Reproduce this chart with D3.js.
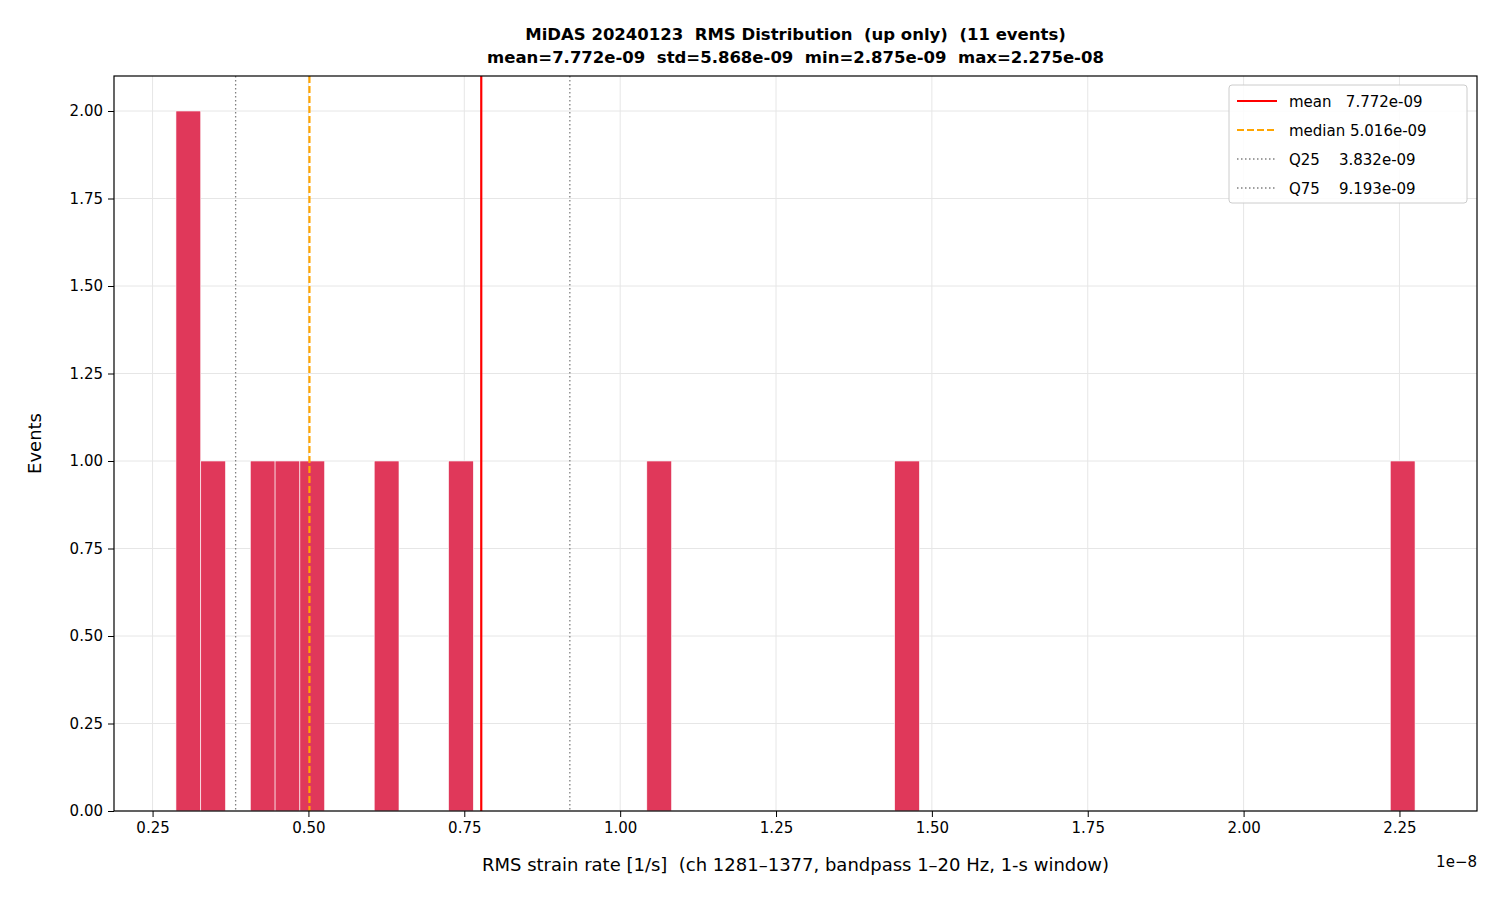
<!DOCTYPE html>
<html>
<head>
<script src="https://d3js.org/d3.v7.min.js"></script>
<style>
  body{margin:0;background:#fff;font-family:"DejaVu Sans",sans-serif;}
  text{font-family:"DejaVu Sans",sans-serif;white-space:pre;}
</style>
</head>
<body>
<svg id="chart" width="1500" height="900"></svg>
<script>
// data (x in units of 1e-8)
var binMin = 0.2875, binMax = 2.275
var counts = [2,1,0,1,1,1,0,0,1,0, 0,1,0,0,0,0,0,0,0,1, 0,0,0,0,0,0,0,0,0,1, 0,0,0,0,0,0,0,0,0,0, 0,0,0,0,0,0,0,0,0,1]
var xTicks = [0.25,0.5,0.75,1.0,1.25,1.5,1.75,2.0,2.25]
var yTicks = [0,0.25,0.5,0.75,1.0,1.25,1.5,1.75,2.0]
var refLines = [
  {name:"mean", label:"mean   7.772e-09", v:0.7772, color:"red", dash:null, w:2.2},
  {name:"median", label:"median 5.016e-09", v:0.5016, color:"orange", dash:"7,3", w:2.2},
  {name:"Q25", label:"Q25    3.832e-09", v:0.3832, color:"grey", dash:"1.5,2.5", w:1.3},
  {name:"Q75", label:"Q75    9.193e-09", v:0.9193, color:"grey", dash:"1.5,2.5", w:1.3}
]

var padL = 114, padR = 1477, padT = 76, padB = 811
var svg = d3.select("#chart")
var span = binMax - binMin
var x = d3.scaleLinear().domain([binMin - 0.05*span, binMax + 0.05*span]).range([padL, padR])
var y = d3.scaleLinear().domain([0, 2.1]).range([padB, padT])
var bw = span / counts.length

// grid
svg.append("g").selectAll("line").data(xTicks).enter().append("line")
  .attr("x1", d => x(d)).attr("x2", d => x(d)).attr("y1", padT).attr("y2", padB)
  .attr("stroke", "#e6e6e6").attr("stroke-width", 1)
svg.append("g").selectAll("line").data(yTicks).enter().append("line")
  .attr("x1", padL).attr("x2", padR).attr("y1", d => y(d)).attr("y2", d => y(d))
  .attr("stroke", "#e6e6e6").attr("stroke-width", 1)

// bars
svg.append("g").selectAll("rect").data(counts).enter().append("rect")
  .attr("x", (d, i) => x(binMin + i*bw))
  .attr("width", x(binMin + bw) - x(binMin))
  .attr("y", d => y(d))
  .attr("height", d => y(0) - y(d))
  .attr("fill", "#e0385a").attr("stroke", "white").attr("stroke-width", 0.6)

// reference lines
svg.append("g").selectAll("line").data(refLines).enter().append("line")
  .attr("x1", d => x(d.v)).attr("x2", d => x(d.v)).attr("y1", padT).attr("y2", padB)
  .attr("stroke", d => d.color).attr("stroke-width", d => d.w)
  .attr("stroke-dasharray", d => d.dash)

// axes
var xAxis = d3.axisBottom(x).tickValues(xTicks).tickFormat(d3.format(".2f")).tickSizeOuter(0).tickPadding(5)
var yAxis = d3.axisLeft(y).tickValues(yTicks).tickFormat(d3.format(".2f")).tickSizeOuter(0).tickPadding(5)
svg.append("g").attr("transform", "translate(0," + padB + ")").call(xAxis)
  .selectAll("text").style("font-size", "15px").attr("fill", "#000")
svg.append("g").attr("transform", "translate(" + padL + ",0)").call(yAxis)
  .selectAll("text").style("font-size", "15px").attr("fill", "#000")
svg.selectAll(".domain").remove()
svg.append("rect").attr("x", padL).attr("y", padT).attr("width", padR-padL).attr("height", padB-padT)
  .attr("fill", "none").attr("stroke", "#000").attr("stroke-width", 1.2)

// labels
svg.append("text").attr("x", 1477).attr("y", 867).attr("text-anchor", "end")
  .style("font-size", "15px").text("1e\u22128")
svg.append("text").attr("x", (padL+padR)/2).attr("y", 871).attr("text-anchor", "middle")
  .style("font-size", "18px").text("RMS strain rate [1/s]  (ch 1281\u20131377, bandpass 1\u201320 Hz, 1-s window)")
svg.append("text").attr("transform", "translate(41," + (padT+padB)/2 + ") rotate(-90)")
  .attr("text-anchor", "middle").style("font-size", "18px").text("Events")
svg.append("text").attr("x", (padL+padR)/2).attr("y", 40).attr("text-anchor", "middle")
  .style("font-size", "16.5px").style("font-weight", "bold")
  .text("MiDAS 20240123  RMS Distribution  (up only)  (11 events)")
svg.append("text").attr("x", (padL+padR)/2).attr("y", 63).attr("text-anchor", "middle")
  .style("font-size", "16.5px").style("font-weight", "bold")
  .text("mean=7.772e-09  std=5.868e-09  min=2.875e-09  max=2.275e-08")

// legend
var lg = svg.append("g").attr("transform", "translate(1229,85)")
lg.append("rect").attr("width", 238).attr("height", 118).attr("rx", 3)
  .attr("fill", "white").attr("fill-opacity", 0.85).attr("stroke", "#ccc")
var item = lg.selectAll("g").data(refLines).enter().append("g")
  .attr("transform", (d, i) => "translate(8," + (16 + i*29) + ")")
item.append("line").attr("x1", 0).attr("x2", 40)
  .attr("stroke", d => d.color).attr("stroke-width", d => d.w).attr("stroke-dasharray", d => d.dash)
item.append("text").attr("x", 52).attr("y", 5.5).style("font-size", "15px").text(d => d.label)
</script>
</body>
</html>
